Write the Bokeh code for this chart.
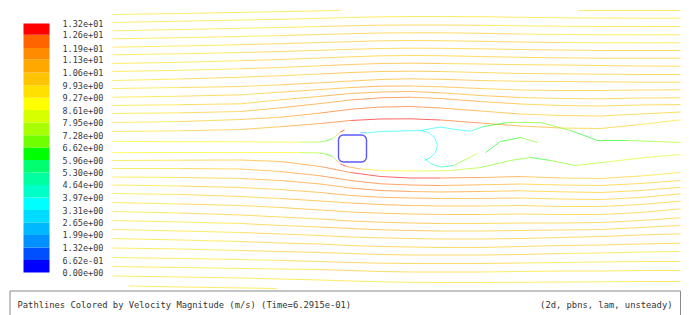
from bokeh.plotting import figure
from bokeh.models import Range1d, ColumnDataSource, BoxAnnotation
from bokeh.transform import linear_cmap
from bokeh.core.properties import value
from bokeh.embed import file_html
from bokeh.resources import INLINE

# ---------------- colour scale (Velocity Magnitude, m/s) ----------------
scale_labels = ["0.00e+00", "6.62e-01", "1.32e+00", "1.99e+00", "2.65e+00",
                "3.31e+00", "3.97e+00", "4.64e+00", "5.30e+00", "5.96e+00",
                "6.62e+00", "7.28e+00", "7.95e+00", "8.61e+00", "9.27e+00",
                "9.93e+00", "1.06e+01", "1.13e+01", "1.19e+01", "1.26e+01",
                "1.32e+01"]
band_colors = ["#0000ff", "#0050ff", "#0090ff", "#00b8ff", "#00dcff",
               "#00ffff", "#00ffc8", "#00ffa0", "#00ff70", "#00ff00",
               "#70ff00", "#a8ff00", "#d8ff00", "#ffff00", "#ffe000",
               "#ffc400", "#ffa800", "#ff8c00", "#ff6400", "#ff0000"]

# ---------------- pathlines (coordinates) ----------------
stations_x = [112, 180, 240, 280, 320, 350, 380, 410, 440, 480, 520, 560, 600, 640, 680]

upper_y = [
    [22, 20.7, 19.5, 18.8, 17.8, 17, 16.3, 16, 16, 16.2, 16.8, 17.3, 17.5, 17.7, 17.7],
    [30.3, 29, 27.8, 27, 26, 25.3, 24.7, 24.5, 24.5, 24.8, 25.3, 25.7, 26, 26, 26],
    [38.3, 37.2, 36, 35, 34, 33.2, 32.5, 32.3, 32.3, 32.8, 33.5, 34, 34.3, 34.3, 34.3],
    [46.7, 45.5, 44.2, 43.2, 42, 41.2, 40.3, 40, 40.2, 40.8, 41.5, 42, 42.3, 42.3, 42.3],
    [54.3, 53.3, 52, 51, 49.8, 48.8, 48, 47.7, 47.8, 48.3, 49, 49.5, 50, 50, 50],
    [63, 61.8, 60.2, 59, 57.5, 56.3, 55.3, 55, 55.2, 56, 56.8, 57.3, 57.7, 57.7, 57.7],
    [71, 69.8, 68.3, 67, 65.3, 64, 63, 62.7, 63, 63.5, 64.2, 64.5, 65, 65.5, 65.7],
    [80, 78.5, 76.7, 75.2, 73.5, 72, 71, 70.7, 71, 72, 73, 73.3, 73.7, 74, 74],
    [88, 87, 86, 84.3, 82.3, 80.5, 79, 78.3, 78.8, 80, 80.8, 81, 81.3, 81.7, 81.7],
    [96.7, 95.7, 94.3, 91.7, 89, 87, 85.7, 85.5, 86.3, 88, 89.5, 90, 90, 89.5, 89.3],
    [105, 104.2, 103.3, 99.3, 95.8, 93, 91.5, 91, 92.3, 95, 97, 98, 98.3, 97.5, 97.3],
    [113, 112.3, 111, 107.3, 103, 99.5, 97.3, 96.7, 98, 101, 103.5, 105, 105.5, 104.5, 104],
    [122, 121, 119, 116.7, 112.5, 108.8, 106.5, 106, 107.5, 110.5, 113.5, 115, 115.5, 113.5, 111.5],
    [131, 130.3, 129, 126.2, 123, 120, 118.5, 118.3, 119.5, 122.5, 125.5, 127.5, 128, 124, 119.3],
]
upper_v = [
    [9.5, 9.5, 9.6, 9.6, 9.7, 9.8, 9.8, 9.8, 9.8, 9.7, 9.6, 9.6, 9.6, 9.6, 9.6],
    [9.6, 9.6, 9.7, 9.8, 9.9, 10.0, 10.1, 10.1, 10.0, 9.9, 9.8, 9.7, 9.7, 9.7, 9.7],
    [9.6, 9.7, 9.8, 9.9, 10.0, 10.1, 10.2, 10.2, 10.1, 10.0, 9.9, 9.8, 9.8, 9.8, 9.8],
    [9.6, 9.7, 9.8, 10.0, 10.1, 10.2, 10.3, 10.3, 10.2, 10.0, 9.9, 9.9, 9.8, 9.8, 9.8],
    [9.6, 9.7, 9.9, 10.0, 10.2, 10.3, 10.4, 10.4, 10.3, 10.1, 10.0, 9.9, 9.9, 9.9, 9.9],
    [9.6, 9.7, 9.9, 10.1, 10.3, 10.5, 10.6, 10.5, 10.4, 10.2, 10.0, 9.9, 9.9, 9.9, 9.9],
    [9.6, 9.7, 10.0, 10.2, 10.5, 10.7, 10.8, 10.7, 10.5, 10.3, 10.1, 10.0, 9.9, 9.9, 9.9],
    [9.6, 9.8, 10.0, 10.3, 10.6, 10.9, 11.0, 10.9, 10.7, 10.4, 10.2, 10.0, 10.0, 10.0, 10.0],
    [9.6, 9.8, 10.1, 10.4, 10.8, 11.1, 11.2, 11.1, 10.9, 10.5, 10.2, 10.1, 10.0, 10.0, 10.0],
    [9.6, 9.8, 10.2, 10.6, 11.0, 11.3, 11.4, 11.3, 11.0, 10.6, 10.3, 10.1, 10.0, 10.0, 10.0],
    [9.5, 9.8, 10.3, 10.8, 11.3, 11.6, 11.7, 11.6, 11.3, 10.8, 10.4, 10.2, 10.1, 10.1, 10.0],
    [9.5, 9.8, 10.4, 11.0, 11.6, 12.0, 12.1, 12.0, 11.6, 11.0, 10.5, 10.3, 10.2, 10.1, 10.0],
    [9.4, 9.7, 10.4, 11.1, 11.9, 12.3, 12.5, 12.4, 12.0, 11.3, 10.7, 10.4, 10.2, 10.0, 9.8],
    [9.3, 9.6, 10.3, 11.2, 12.2, 12.8, 13.0, 12.9, 12.4, 11.6, 10.9, 10.4, 10.1, 9.8, 9.4],
]

lower_y = [
    [160, 159.7, 159.5, 161, 166, 172, 176, 177.5, 177.5, 177, 176, 177.5, 178, 175.5, 172],
    [168, 168, 168.5, 171, 175.3, 180, 183.3, 184.5, 185, 184.3, 183.5, 184.5, 185, 183, 180],
    [176.5, 177, 178, 180, 183.5, 187.5, 190, 191, 191.5, 191, 190.3, 191.3, 192, 190, 186.7],
    [184.5, 185.5, 187, 189, 192, 195, 196.7, 197.5, 198, 198, 197.5, 198.5, 199, 197, 193.3],
    [193, 194, 196, 198, 200.5, 202.5, 204, 205, 205.5, 205.5, 205, 206, 206, 204, 200.7],
    [202, 203.5, 205, 207, 209.5, 211.5, 212.7, 213.5, 214, 214, 213.5, 214, 214, 212, 208.3],
    [211, 212.5, 214.5, 216.5, 218.5, 220.5, 221.7, 222.5, 223, 223, 222.5, 222.5, 222, 220, 217.3],
    [220, 221.5, 223, 225, 226.5, 228, 229.3, 230, 230.5, 230.5, 230, 229.5, 229, 227, 225],
    [229, 230.5, 232, 233.5, 235, 236.5, 237.3, 238, 238.5, 238.5, 238, 237, 236, 234.5, 233.3],
    [238, 239.5, 241, 242.5, 243.5, 245, 246, 246.5, 247, 247, 246, 245, 244.5, 243.5, 242.7],
    [247.5, 248.5, 250, 251, 252, 253, 254, 254.5, 254.5, 254.5, 254, 253, 252.5, 251.5, 251],
    [257, 258, 259, 260, 261, 262, 262.7, 263, 263, 263, 262.5, 262, 261.5, 261, 261],
    [266, 267, 268, 268.5, 269, 270, 271, 271.5, 271.5, 271.5, 271, 270.5, 270.5, 270, 270],
    [275.5, 276.5, 277.5, 278.5, 279.5, 280.5, 281.3, 281.8, 282, 282, 281.8, 281.5, 281.3, 281, 281],
]
lower_v = [
    [9.3, 9.6, 10.3, 11.2, 12.2, 12.8, 13.0, 12.9, 12.4, 11.6, 10.9, 10.4, 10.1, 9.8, 9.4],
    [9.4, 9.7, 10.4, 11.1, 11.9, 12.3, 12.5, 12.4, 12.0, 11.3, 10.7, 10.4, 10.2, 10.0, 9.8],
    [9.5, 9.8, 10.4, 11.0, 11.6, 12.0, 12.1, 12.0, 11.6, 11.0, 10.5, 10.3, 10.2, 10.1, 10.0],
    [9.5, 9.8, 10.3, 10.8, 11.3, 11.6, 11.7, 11.6, 11.3, 10.8, 10.4, 10.2, 10.1, 10.1, 10.0],
    [9.6, 9.8, 10.2, 10.6, 11.0, 11.3, 11.4, 11.3, 11.0, 10.6, 10.3, 10.1, 10.0, 10.0, 10.0],
    [9.6, 9.8, 10.1, 10.4, 10.8, 11.1, 11.2, 11.1, 10.9, 10.5, 10.2, 10.1, 10.0, 10.0, 10.0],
    [9.6, 9.8, 10.0, 10.3, 10.6, 10.9, 11.0, 10.9, 10.7, 10.4, 10.2, 10.0, 10.0, 10.0, 10.0],
    [9.6, 9.7, 10.0, 10.2, 10.5, 10.7, 10.8, 10.7, 10.5, 10.3, 10.1, 10.0, 9.9, 9.9, 9.9],
    [9.6, 9.7, 9.9, 10.1, 10.3, 10.5, 10.6, 10.5, 10.4, 10.2, 10.0, 9.9, 9.9, 9.9, 9.9],
    [9.6, 9.7, 9.9, 10.0, 10.2, 10.3, 10.4, 10.4, 10.3, 10.1, 10.0, 9.9, 9.9, 9.9, 9.9],
    [9.6, 9.7, 9.8, 10.0, 10.1, 10.2, 10.3, 10.3, 10.2, 10.0, 9.9, 9.9, 9.8, 9.8, 9.8],
    [9.6, 9.7, 9.8, 9.9, 10.0, 10.1, 10.2, 10.2, 10.1, 10.0, 9.9, 9.8, 9.8, 9.8, 9.8],
    [9.6, 9.6, 9.7, 9.8, 9.9, 10.0, 10.1, 10.1, 10.0, 9.9, 9.8, 9.7, 9.7, 9.7, 9.7],
    [9.5, 9.5, 9.6, 9.6, 9.7, 9.8, 9.8, 9.8, 9.8, 9.7, 9.6, 9.6, 9.6, 9.6, 9.6],
]

# individual pathlines: (x list, y list, speed list)
top_a_x = [112, 180, 260, 340]
top_a_y = [14, 13, 11.5, 10]
top_a_v = [9.5, 9.5, 9.6, 9.6]

top_b_x = [578, 680]
top_b_y = [10, 10]
top_b_v = [9.6, 9.6]

bottom_a_x = [128, 200, 276]
bottom_a_y = [285.5, 286.8, 288]
bottom_a_v = [9.5, 9.5, 9.6]

stag_up_x = [112, 240, 300, 318, 326, 332, 336, 340, 344]
stag_up_y = [141, 141.3, 141.7, 141.5, 140.5, 138, 135, 131.5, 129.5]
stag_up_v = [9.3, 9.0, 8.2, 7.2, 6.3, 6.3, 9.5, 12.8, 13.0]

stag_lo_x = [112, 240, 300, 318, 326, 332, 336, 340, 346, 360, 380, 420, 450, 480, 510, 530, 550, 575, 610, 645, 680]
stag_lo_y = [152, 152, 152, 152.5, 153.5, 156, 159.5, 163.5, 166, 168.5, 170, 170.5, 170, 167, 160, 157, 160, 165, 161, 157, 154]
stag_lo_v = [9.3, 9.0, 8.2, 7.2, 6.3, 6.3, 9.5, 12.8, 12.3, 10.5, 9.0, 8.6, 8.0, 7.5, 6.8, 6.5, 6.5, 7.2, 7.8, 8.3, 8.6]

shear_up_x = [360, 366, 380, 400, 420, 440, 455, 470, 483, 507, 540, 570, 597, 627, 655, 680]
shear_up_y = [132, 132.5, 131, 130.5, 130, 126.5, 129, 130.7, 126, 122, 122, 130, 140, 140, 141, 142]
shear_up_v = [1.5, 3.0, 3.6, 3.8, 3.9, 3.8, 3.6, 4.0, 5.5, 6.5, 7.0, 6.8, 6.3, 6.8, 7.5, 8.0]

hook_a_x = [420, 428, 434, 437, 435, 430, 424]
hook_a_y = [130, 132, 137, 145, 152, 157, 160]
hook_a_v = [3.7, 3.6, 3.5, 3.4, 3.4, 3.3, 3.3]

hook_b_x = [424, 430, 440, 453, 466, 477]
hook_b_y = [158, 163, 166.5, 165, 158.5, 153]
hook_b_v = [3.3, 3.6, 4.5, 5.8, 7.5, 8.3]

wake_c_x = [485, 500, 520, 537]
wake_c_y = [152, 141, 137, 142]
wake_c_v = [6.3, 6.2, 6.5, 7.0]

# square cylinder outline (slow pathline hugging the wall)
cyl_left, cyl_right, cyl_top, cyl_bottom = 338, 366, 134.5, 161.5

title_left = "Pathlines Colored by Velocity Magnitude (m/s)  (Time=6.2915e-01)"
title_right = "(2d, pbns, lam, unsteady)"

# ---------------- layout constants (page pixels) ----------------
FRAME_X0, FRAME_X1 = 0, 689
FRAME_Y0, FRAME_Y1 = 0, 315
CB_LEFT, CB_RIGHT = 23, 49
CB_TOP_Y, CB_ZERO_Y = 23, 272
LABEL_X = 62
FONT = "DejaVu Sans Mono"

tick_values = [float(s) for s in scale_labels]
vmax = tick_values[-1]
per_px = vmax / (CB_ZERO_Y - CB_TOP_Y)

p = figure(width=FRAME_X1 - FRAME_X0, height=FRAME_Y1 - FRAME_Y0,
           x_range=Range1d(FRAME_X0, FRAME_X1),
           y_range=Range1d(FRAME_Y1, FRAME_Y0),
           output_backend="svg", toolbar_location=None, min_border=0,
           background_fill_color="white", border_fill_color="white")
p.axis.visible = False
p.grid.visible = False
p.outline_line_color = None
p.extra_y_ranges = {"cb": Range1d((CB_ZERO_Y - FRAME_Y1) * per_px,
                                  (CB_ZERO_Y - FRAME_Y0) * per_px)}

# ---- build segments ----
seg = {"xs": [], "ys": [], "v": []}


def add_path(xs, ys, vs):
    for i in range(len(xs) - 1):
        seg["xs"].append([xs[i], xs[i + 1]])
        seg["ys"].append([ys[i], ys[i + 1]])
        seg["v"].append(0.5 * (vs[i] + vs[i + 1]))


for ys, vs in zip(upper_y, upper_v):
    add_path(stations_x, ys, vs)
for ys, vs in zip(lower_y, lower_v):
    add_path(stations_x, ys, vs)
for xs, ys, vs in [(top_a_x, top_a_y, top_a_v), (top_b_x, top_b_y, top_b_v),
                   (bottom_a_x, bottom_a_y, bottom_a_v),
                   (stag_up_x, stag_up_y, stag_up_v), (stag_lo_x, stag_lo_y, stag_lo_v),
                   (shear_up_x, shear_up_y, shear_up_v), (hook_a_x, hook_a_y, hook_a_v),
                   (hook_b_x, hook_b_y, hook_b_v), (wake_c_x, wake_c_y, wake_c_v)]:
    add_path(xs, ys, vs)

src = ColumnDataSource(seg)
p.multi_line("xs", "ys", source=src,
             line_color=linear_cmap("v", band_colors, 0, vmax),
             line_width=1, line_alpha=0.6)

p.add_layout(BoxAnnotation(left=cyl_left, right=cyl_right, top=cyl_top, bottom=cyl_bottom,
                           border_radius=5, fill_alpha=0, line_color="#3c3cff",
                           line_width=1.4, line_alpha=0.85))

# ---- colour bar ----
p.quad(left=CB_LEFT, right=CB_RIGHT, bottom=tick_values[:-1], top=tick_values[1:],
       fill_color=band_colors, line_color=None, y_range_name="cb")
p.text(x=LABEL_X, y=tick_values, text=scale_labels, y_range_name="cb",
       text_baseline="middle", text_align="left", text_font=value(FONT),
       text_font_size="8.5px", text_color="#3a3a3a")

# ---- caption box ----
p.quad(left=[9.5], right=[680], top=[290.5], bottom=[330], fill_color="white",
       line_color="#8a8a8a", line_width=1)
p.text(x=[17], y=[304], text=[title_left], text_baseline="middle", text_align="left",
       text_font=value(FONT), text_font_size="8.8px", text_color="#333333")
p.text(x=[672], y=[304], text=[title_right], text_baseline="middle", text_align="right",
       text_font=value(FONT), text_font_size="8.8px", text_color="#333333")

open("out.html", "w").write(file_html(p, INLINE))
